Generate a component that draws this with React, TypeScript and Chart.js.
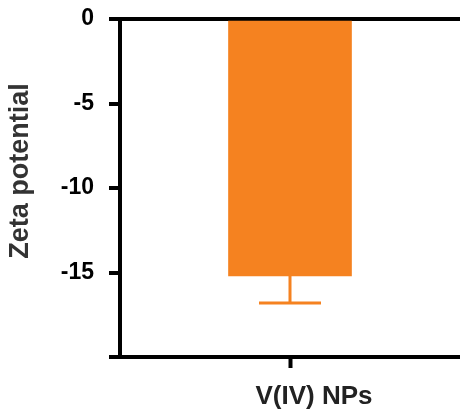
import React, { useEffect, useRef } from "react";
import { Chart, registerables } from "chart.js";

Chart.register(...registerables);

const categories = ["V(IV) NPs"];
const values = [-15.2];
const errors = [1.6];
const yTicks = [0, -5, -10, -15, -20];
const yTitle = "Zeta potential";

const ORANGE = "#F58220";
const FONT = "'Liberation Sans', Arial, Helvetica, sans-serif";

const errorBarPlugin = {
  id: "errorBars",
  afterDatasetsDraw(chart: any) {
    const meta = chart.getDatasetMeta(0);
    const yScale = chart.scales.y;
    const ctx = chart.ctx;
    ctx.save();
    ctx.strokeStyle = ORANGE;
    ctx.lineWidth = 3;
    meta.data.forEach((bar: any, i: number) => {
      const v = values[i];
      const e = errors[i];
      const y0 = yScale.getPixelForValue(v);
      const y1 = yScale.getPixelForValue(v < 0 ? v - e : v + e);
      const x = bar.x;
      ctx.beginPath();
      ctx.moveTo(x, y0);
      ctx.lineTo(x, y1);
      ctx.moveTo(x - 31, y1);
      ctx.lineTo(x + 31, y1);
      ctx.stroke();
    });
    ctx.restore();
  },
};

const yTitlePlugin = {
  id: "yTitle",
  afterDraw(chart: any) {
    const ctx = chart.ctx;
    const area = chart.chartArea;
    ctx.save();
    ctx.translate(21, (area.top + area.bottom) / 2 - 17);
    ctx.rotate(-Math.PI / 2);
    ctx.font = `bold 27px ${FONT}`;
    ctx.fillStyle = "#333";
    ctx.textAlign = "center";
    ctx.textBaseline = "middle";
    ctx.fillText(yTitle, 0, 0);
    ctx.restore();
  },
};

export default function App() {
  const ref = useRef<HTMLCanvasElement | null>(null);
  useEffect(() => {
    if (!ref.current) return;
    const chart = new Chart(ref.current, {
      type: "bar",
      data: {
        labels: categories,
        datasets: [
          {
            data: values,
            backgroundColor: ORANGE,
            borderWidth: 0,
            barThickness: 123,
          },
        ],
      },
      options: {
        animation: false,
        responsive: false,
        maintainAspectRatio: false,
        layout: { padding: { top: 19, right: 0, bottom: 0, left: 0 } },
        plugins: { legend: { display: false }, tooltip: { enabled: false } },
        scales: {
          x: {
            offset: true,
            afterFit: (scale: any) => {
              scale.height = 57;
            },
            border: { display: true, color: "#000", width: 4 },
            grid: {
              offset: false,
              drawOnChartArea: false,
              drawTicks: true,
              tickLength: 11,
              tickWidth: 4,
              tickColor: "#000",
            },
            ticks: {
              color: "#222",
              padding: 13,
              labelOffset: 24,
              font: { family: FONT, size: 26, weight: "bold" },
            },
          },
          y: {
            min: -20,
            max: 0,
            afterBuildTicks: (scale: any) => {
              scale.ticks = yTicks.map((v) => ({ value: v }));
            },
            afterFit: (scale: any) => {
              scale.width = 120;
              scale.paddingTop = 0;
              scale.paddingBottom = 0;
            },
            border: { display: true, color: "#000", width: 4 },
            grid: {
              drawOnChartArea: true,
              drawTicks: true,
              tickLength: 11,
              tickWidth: 4,
              tickColor: "#000",
              color: (c: any) => (c.tick && c.tick.value === 0 ? "#000" : "rgba(0,0,0,0)"),
              lineWidth: (c: any) => (c.tick && c.tick.value === 0 ? 4 : 0),
            },
            ticks: {
              color: "#000",
              padding: 15,
              font: { family: FONT, size: 23, weight: "bold" },
              callback: (v: any) => (Number(v) === -20 ? "" : String(v)),
            },
            title: { display: false },
          },
        },
      },
      plugins: [errorBarPlugin, yTitlePlugin],
    });
    return () => chart.destroy();
  }, []);
  return (
    <div style={{ position: "absolute", left: 0, top: 0, width: 460, height: 414, background: "#fff" }}>
      <canvas ref={ref} width={460} height={414} style={{ width: 460, height: 414, display: "block" }} />
    </div>
  );
}
